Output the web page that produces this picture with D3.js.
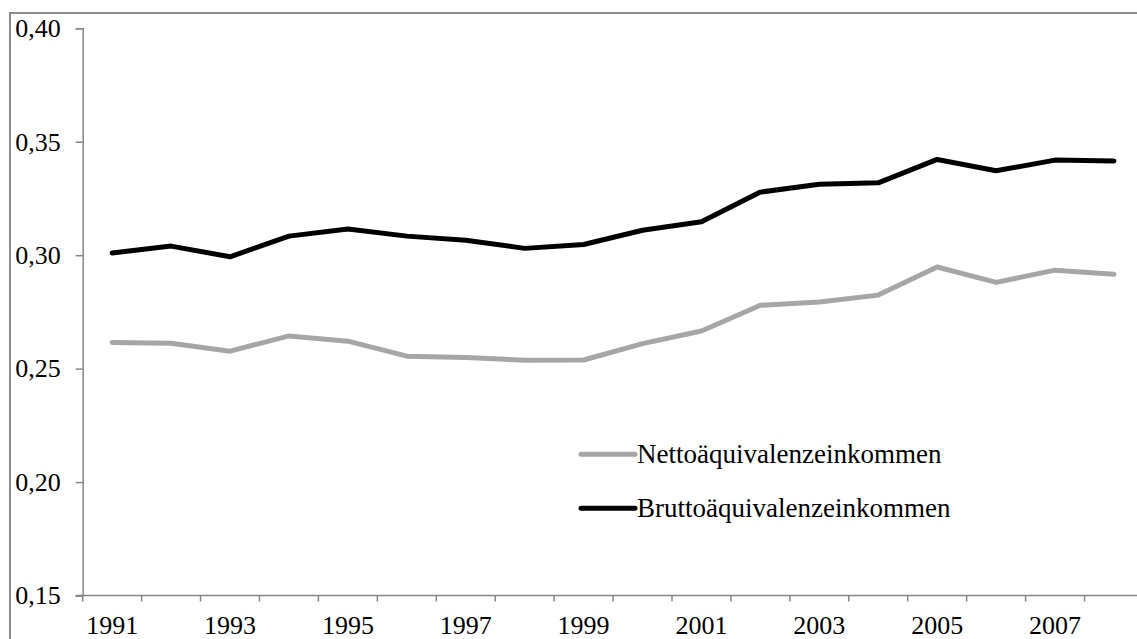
<!DOCTYPE html>
<html><head><meta charset="utf-8">
<script src="https://cdn.jsdelivr.net/npm/d3@7"></script>
<style>body{margin:0;background:#fff;} svg{display:block;}</style>
</head><body>
<svg id="c" width="1137" height="639"></svg>
<script>
const years = [1991,1992,1993,1994,1995,1996,1997,1998,1999,2000,2001,2002,2003,2004,2005,2006,2007,2008];
const netto = [0.2615,0.2612,0.2577,0.2644,0.2621,0.2555,0.2549,0.2537,0.2538,0.2610,0.2666,0.2779,0.2794,0.2824,0.2948,0.2880,0.2934,0.2916];
const brutto = [0.3010,0.3040,0.2993,0.3084,0.3115,0.3084,0.3066,0.3030,0.3047,0.3110,0.3147,0.3278,0.3313,0.3319,0.3422,0.3372,0.3419,0.3415];
const yTicks = [0.15,0.20,0.25,0.30,0.35,0.40];
const seriesNames = ["Nettoäquivalenzeinkommen","Bruttoäquivalenzeinkommen"];

const svg = d3.select("#c");
const font = "'Liberation Serif','Times New Roman',serif";
const fs = 26;
const axisColor = "#868686";

svg.append("rect").attr("x",10).attr("y",13).attr("width",1300).attr("height",800)
  .attr("fill","none").attr("stroke","#8c8c8c").attr("stroke-width",2);

const x = d3.scaleBand().domain(years).range([82.7, 82.7 + 18*58.93]);
const y = d3.scaleLinear().domain([0.15,0.40]).range([595.5,28.3]);

// y axis
const ya = svg.append("g").attr("transform","translate(82.7,0)")
  .call(d3.axisLeft(y).tickValues(yTicks).tickSize(7).tickPadding(15)
    .tickFormat(d => d3.format(".2f")(d).replace(".",",")));
ya.select(".domain").attr("stroke",axisColor).attr("stroke-width",1.5);
ya.selectAll(".tick line").attr("stroke",axisColor).attr("stroke-width",1.5);
ya.selectAll("text").attr("font-family",font).attr("font-size",fs).attr("fill","#000");

// x axis
const xg = svg.append("g").attr("transform","translate(0,595.5)");
xg.append("line").attr("x1",75.7).attr("x2",1200).attr("y1",0).attr("y2",0)
  .attr("stroke",axisColor).attr("stroke-width",1.5);
const edges = years.map(d => x(d)).concat([x(years[years.length-1]) + x.bandwidth()]);
xg.selectAll("line.tk").data(edges).enter().append("line").attr("class","tk")
  .attr("x1",d=>d).attr("x2",d=>d).attr("y1",0).attr("y2",6)
  .attr("stroke",axisColor).attr("stroke-width",1.5);
xg.selectAll("text").data(years.filter((d,i)=>i%2===0)).enter().append("text")
  .attr("x",d=>x(d)+x.bandwidth()/2).attr("y",38.5)
  .attr("text-anchor","middle").attr("font-family",font).attr("font-size",fs)
  .text(d=>d);

const line = d3.line().x((d,i)=>x(years[i])+x.bandwidth()/2).y(d=>y(d));
svg.append("path").datum(netto).attr("d",line).attr("fill","none")
  .attr("stroke","#a6a6a6").attr("stroke-width",5).attr("stroke-linejoin","round").attr("stroke-linecap","round");
svg.append("path").datum(brutto).attr("d",line).attr("fill","none")
  .attr("stroke","#000").attr("stroke-width",5).attr("stroke-linejoin","round").attr("stroke-linecap","round");

// legend
const leg = [{name:seriesNames[0],color:"#a6a6a6",y:454.3},{name:seriesNames[1],color:"#000",y:508.3}];
leg.forEach(l => {
  svg.append("line").attr("x1",581).attr("x2",635).attr("y1",l.y).attr("y2",l.y)
    .attr("stroke",l.color).attr("stroke-width",5).attr("stroke-linecap","round");
  svg.append("text").attr("x",637).attr("y",l.y+9).attr("font-family",font)
    .attr("font-size",27).text(l.name);
});
</script>
</body></html>
